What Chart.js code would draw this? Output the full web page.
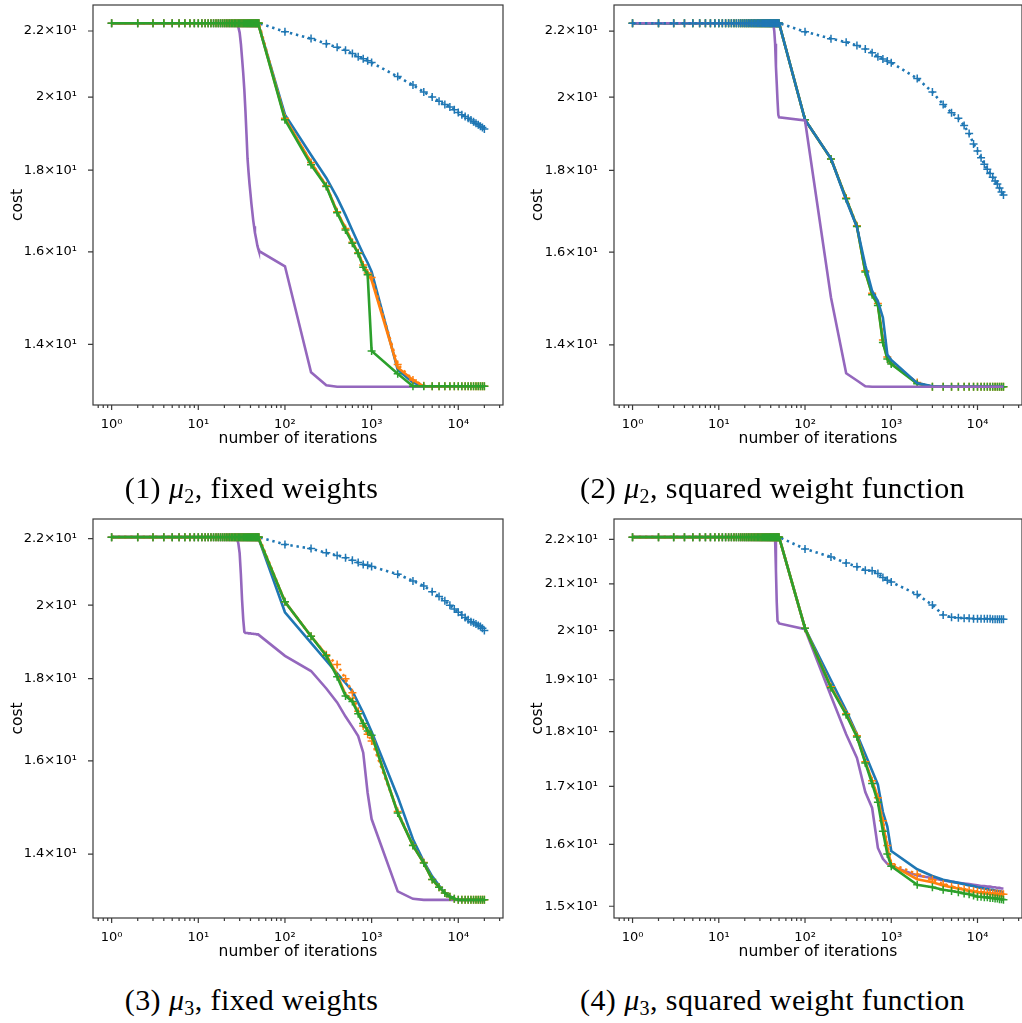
<!DOCTYPE html>
<html>
<head>
<meta charset="utf-8">
<script src="https://cdn.jsdelivr.net/npm/chart.js@4.4.0/dist/chart.umd.min.js"></script>
<style>
  body { margin: 0; background: #fff; width: 1022px; height: 1023px; position: relative; overflow: hidden; }
  .panel { position: absolute; }
  .cap { position: absolute; text-align: center; font-family: "Liberation Serif", serif; font-size: 30px; line-height: 32px; color: #000; letter-spacing: 0.4px; white-space: nowrap; }
  .cap sub { font-size: 20px; vertical-align: -5px; line-height: 0; }
</style>
</head>
<body>
<div class="panel" style="left:0;top:0;width:510px;height:460px"><canvas id="c1"></canvas></div>
<div class="panel" style="left:510px;top:0;width:512px;height:460px"><canvas id="c2"></canvas></div>
<div class="panel" style="left:0;top:500px;width:510px;height:473px"><canvas id="c3"></canvas></div>
<div class="panel" style="left:510px;top:500px;width:512px;height:473px"><canvas id="c4"></canvas></div>
<div class="cap" style="left:0;top:472px;width:503px">(1) <i>μ</i><sub>2</sub>, fixed weights</div>
<div class="cap" style="left:521px;top:472px;width:503px">(2) <i>μ</i><sub>2</sub>, squared weight function</div>
<div class="cap" style="left:0;top:984px;width:503px">(3) <i>μ</i><sub>3</sub>, fixed weights</div>
<div class="cap" style="left:521px;top:984px;width:503px">(4) <i>μ</i><sub>3</sub>, squared weight function</div>
<script>
// iteration counts where the cost was recorded
const iters = [1, 2, 3, 4, 5, 6, 7, 8, 9, 10, 11, 12, 13, 14, 15, 16, 17, 18, 19, 20,
  21, 22, 23, 24, 25, 26, 27, 28, 29, 30, 31, 32, 33, 34, 35, 36, 37, 38, 39, 40,
  41, 42, 43, 44, 45, 46, 47, 48, 49, 50,
  100, 200, 300, 400, 500, 600, 700, 800, 900, 1000,
  2000, 3000, 4000, 5000, 6000, 7000, 8000, 9000, 10000, 11000,
  12000, 13000, 14000, 15000, 16000, 17000, 18000, 19000, 20000];

// starting plateau (first 50 iterations)
const top12 = [22.25, 22.25, 22.25, 22.25, 22.25, 22.25, 22.25, 22.25, 22.25, 22.25,
  22.25, 22.25, 22.25, 22.25, 22.25, 22.25, 22.25, 22.25, 22.25, 22.25,
  22.25, 22.25, 22.25, 22.25, 22.25, 22.25, 22.25, 22.25, 22.25, 22.25,
  22.25, 22.25, 22.25, 22.25, 22.25, 22.25, 22.25, 22.25, 22.25, 22.25,
  22.25, 22.25, 22.25, 22.25, 22.25, 22.25, 22.25, 22.25, 22.25, 22.25];
const top34 = [22.05, 22.05, 22.05, 22.05, 22.05, 22.05, 22.05, 22.05, 22.05, 22.05,
  22.05, 22.05, 22.05, 22.05, 22.05, 22.05, 22.05, 22.05, 22.05, 22.05,
  22.05, 22.05, 22.05, 22.05, 22.05, 22.05, 22.05, 22.05, 22.05, 22.05,
  22.05, 22.05, 22.05, 22.05, 22.05, 22.05, 22.05, 22.05, 22.05, 22.05,
  22.05, 22.05, 22.05, 22.05, 22.05, 22.05, 22.05, 22.05, 22.05, 22.05];

// (1) mu2, fixed weights -- values from 100 iterations on
const blueDot1 = [21.98, 21.76, 21.6, 21.49, 21.4, 21.3, 21.2, 21.14, 21.08, 21.02,
  20.6, 20.35, 20.15, 20.0, 19.88, 19.79, 19.72, 19.64, 19.56, 19.5,
  19.45, 19.4, 19.35, 19.3, 19.26, 19.22, 19.18, 19.14, 19.1];
const blueLine1 = [19.5, 18.4, 17.8, 17.3, 16.87, 16.5, 16.2, 15.95, 15.75, 15.55,
  13.5, 13.25, 13.18, 13.18, 13.18, 13.18, 13.18, 13.18, 13.18, 13.18,
  13.18, 13.18, 13.18, 13.18, 13.18, 13.18, 13.18, 13.18, 13.18];
const orangeLine1 = [19.4, 18.2, 17.6, 16.95, 16.55, 16.22, 15.98, 15.7, 15.52, 15.36,
  13.54, 13.3, 13.18, 13.18, 13.18, 13.18, 13.18, 13.18, 13.18, 13.18,
  13.18, 13.18, 13.18, 13.18, 13.18, 13.18, 13.18, 13.18, 13.18];
const orangeDot1 = [19.4, 18.2, 17.6, 16.95, 16.55, 16.22, 15.98, 15.7, 15.52, 15.42,
  13.6, 13.3, 13.19, 13.18, 13.18, 13.18, 13.18, 13.18, 13.18, 13.18,
  13.18, 13.18, 13.18, 13.18, 13.18, 13.18, 13.18, 13.18, 13.18];
const green1 = [19.36, 18.14, 17.58, 16.93, 16.51, 16.2, 15.96, 15.65, 15.48, 13.87,
  13.42, 13.18, 13.18, 13.18, 13.18, 13.18, 13.18, 13.18, 13.18, 13.18,
  13.18, 13.18, 13.18, 13.18, 13.18, 13.18, 13.18, 13.18, 13.18];
const purpleDrop1 = [22.22, 22.12, 21.95, 21.6, 21.15, 20.7, 20.2, 19.6, 18.95, 18.3,
  17.95, 17.65, 17.4, 17.15, 16.95, 16.75, 16.6, 16.45, 16.35, 16.25, 16.15, 16.08, 16.02];
const purple1 = [15.67, 13.45, 13.2, 13.17, 13.17, 13.17, 13.17, 13.17, 13.17, 13.17,
  13.17, 13.17, 13.17, 13.17, 13.17, 13.17, 13.17, 13.17, 13.17, 13.17,
  13.17, 13.17, 13.17, 13.17, 13.17, 13.17, 13.17, 13.17, 13.17];

// (2) mu2, squared weight function
const blueDot2 = [21.98, 21.76, 21.65, 21.55, 21.44, 21.32, 21.2, 21.13, 21.07, 21.02,
  20.55, 20.15, 19.79, 19.56, 19.4, 19.2, 18.98, 18.7, 18.51, 18.33,
  18.16, 18.03, 17.92, 17.82, 17.73, 17.65, 17.55, 17.45, 17.37];
const blueLine2 = [19.36, 18.31, 17.25, 16.59, 15.7, 15.13, 14.91, 14.56, 13.81, 13.7,
  13.25, 13.19, 13.18, 13.18, 13.18, 13.18, 13.18, 13.18, 13.18, 13.18,
  13.18, 13.18, 13.18, 13.18, 13.18, 13.18, 13.18, 13.18, 13.18];
const orangeLine2 = [19.36, 18.31, 17.28, 16.6, 15.55, 15.06, 14.85, 14.07, 13.74, 13.63,
  13.25, 13.18, 13.18, 13.18, 13.18, 13.18, 13.18, 13.18, 13.18, 13.18,
  13.18, 13.18, 13.18, 13.18, 13.18, 13.18, 13.18, 13.18, 13.18];
const orangeDot2 = [19.36, 18.3, 17.3, 16.62, 15.58, 15.08, 14.86, 14.1, 13.76, 13.64,
  13.26, 13.18, 13.18, 13.18, 13.18, 13.18, 13.18, 13.18, 13.18, 13.18,
  13.18, 13.18, 13.18, 13.18, 13.18, 13.18, 13.18, 13.18, 13.18];
const green2 = [19.36, 18.3, 17.28, 16.6, 15.55, 15.05, 14.82, 14.05, 13.72, 13.62,
  13.24, 13.18, 13.18, 13.18, 13.18, 13.18, 13.18, 13.18, 13.18, 13.18,
  13.18, 13.18, 13.18, 13.18, 13.18, 13.18, 13.18, 13.18, 13.18];
const purpleDrop2 = [22.2, 22.0, 21.6, 20.9, 20.4, 19.9, 19.5, 19.43];
const purple2 = [19.34, 14.99, 13.44, 13.3, 13.19, 13.18, 13.18, 13.18, 13.18, 13.18,
  13.18, 13.18, 13.18, 13.18, 13.18, 13.18, 13.18, 13.18, 13.18, 13.18,
  13.18, 13.18, 13.18, 13.18, 13.18, 13.18, 13.18, 13.18, 13.18];

// (3) mu3, fixed weights
const blueDot3 = [21.82, 21.69, 21.56, 21.48, 21.41, 21.33, 21.26, 21.2, 21.18, 21.14,
  20.91, 20.71, 20.56, 20.39, 20.25, 20.13, 20.0, 19.89, 19.8, 19.72,
  19.65, 19.59, 19.53, 19.5, 19.47, 19.43, 19.4, 19.35, 19.29];
const blueLine3 = [19.8, 18.95, 18.47, 18.14, 17.89, 17.68, 17.39, 17.14, 16.9, 16.68,
  15.2, 14.3, 13.85, 13.56, 13.38, 13.24, 13.18, 13.13, 13.11, 13.11,
  13.11, 13.11, 13.11, 13.11, 13.11, 13.11, 13.11, 13.11, 13.11];
const green3 = [20.1, 19.13, 18.6, 18.05, 17.56, 17.42, 17.12, 16.88, 16.7, 16.6,
  14.85, 14.17, 13.82, 13.5, 13.35, 13.24, 13.17, 13.13, 13.11, 13.11,
  13.11, 13.11, 13.11, 13.11, 13.11, 13.11, 13.11, 13.11, 13.11];
const orangeDot3 = [20.1, 19.13, 18.63, 18.37, 18.0, 17.64, 17.18, 16.82, 16.62, 16.46,
  14.88, 14.18, 13.83, 13.5, 13.35, 13.24, 13.17, 13.13, 13.11, 13.11,
  13.11, 13.11, 13.11, 13.11, 13.11, 13.11, 13.11, 13.11, 13.11];
const orangeLine3 = [20.1, 19.13, 18.62, 18.1, 17.6, 17.45, 17.15, 16.9, 16.72, 16.6,
  14.86, 14.17, 13.82, 13.5, 13.35, 13.24, 13.17, 13.13, 13.11, 13.11,
  13.11, 13.11, 13.11, 13.11, 13.11, 13.11, 13.11, 13.11, 13.11];
const purpleDrop3 = [22.0, 21.85, 21.55, 20.9, 20.15, 19.6, 19.25, 19.22, 19.22, 19.22,
  19.21, 19.21, 19.21, 19.2, 19.2, 19.2, 19.19, 19.19, 19.19, 19.18, 19.18, 19.18, 19.18];
const purple3 = [18.6, 18.2, 17.75, 17.4, 17.05, 16.8, 16.58, 16.19, 15.28, 14.72,
  13.27, 13.13, 13.11, 13.11, 13.11, 13.11, 13.11, 13.11, 13.11, 13.11,
  13.11, 13.11, 13.11, 13.11, 13.11, 13.11, 13.11, 13.11, 13.11];

// (4) mu3, squared weight function
const blueDot4 = [21.78, 21.6, 21.46, 21.38, 21.3, 21.29, 21.23, 21.14, 21.08, 21.04,
  20.77, 20.54, 20.33, 20.28, 20.27, 20.26, 20.26, 20.25, 20.25, 20.25,
  20.25, 20.25, 20.25, 20.24, 20.24, 20.24, 20.24, 20.24, 20.24];
const blueLine4 = [20.05, 18.99, 18.4, 17.95, 17.58, 17.28, 17.03, 16.55, 16.3, 15.89,
  15.59, 15.48, 15.42, 15.39, 15.37, 15.35, 15.33, 15.32, 15.3, 15.29,
  15.28, 15.27, 15.26, 15.26, 15.25, 15.24, 15.24, 15.23, 15.22];
const green4 = [20.05, 18.84, 18.32, 17.9, 17.42, 17.05, 16.72, 16.22, 15.84, 15.64,
  15.34, 15.3, 15.26, 15.24, 15.22, 15.2, 15.19, 15.17, 15.15, 15.15,
  15.14, 15.14, 15.13, 15.13, 15.12, 15.12, 15.11, 15.11, 15.1];
const orangeLine4 = [20.05, 18.86, 18.34, 17.92, 17.44, 17.1, 16.8, 16.35, 15.95, 15.66,
  15.43, 15.38, 15.33, 15.3, 15.28, 15.26, 15.24, 15.23, 15.22, 15.21,
  15.2, 15.2, 15.19, 15.19, 15.18, 15.18, 15.17, 15.17, 15.16];
const orangeDot4 = [20.05, 18.86, 18.34, 17.92, 17.44, 17.1, 16.8, 16.4, 15.98, 15.68,
  15.51, 15.42, 15.35, 15.31, 15.29, 15.27, 15.25, 15.24, 15.23, 15.22,
  15.22, 15.21, 15.21, 15.2, 15.2, 15.2, 15.19, 15.19, 15.19];
const purpleDrop4 = [22.0, 21.3, 20.6, 20.2, 20.18, 20.15];
const purple4 = [20.03, 18.68, 17.95, 17.51, 16.9, 16.62, 15.94, 15.76, 15.68, 15.64,
  15.49, 15.45, 15.41, 15.39, 15.37, 15.36, 15.35, 15.34, 15.33, 15.32,
  15.32, 15.31, 15.31, 15.3, 15.3, 15.29, 15.29, 15.28, 15.28];

// tick labels
const xMajor = [1, 10, 100, 1000, 10000];
const xLabels = ['10⁰', '10¹', '10²', '10³', '10⁴'];
const yTicksA = [14, 16, 18, 20, 22];
const yLabelsA = ['1.4×10¹', '1.6×10¹', '1.8×10¹', '2×10¹', '2.2×10¹'];
const yTicksB = [15, 16, 17, 18, 19, 20, 21, 22];
const yLabelsB = ['1.5×10¹', '1.6×10¹', '1.7×10¹', '1.8×10¹', '1.9×10¹', '2×10¹', '2.1×10¹', '2.2×10¹'];

const BLUE = '#1f77b4', ORANGE = '#ff7f0e', GREEN = '#2ca02c', PURPLE = '#9467bd';

// matplotlib-like autoscale: 5% margin in log space
function logRange(vals) {
    const lo = Math.log10(Math.min(...vals));
    const hi = Math.log10(Math.max(...vals));
    const m = (hi - lo) * 0.05;
    return [Math.pow(10, lo - m), Math.pow(10, hi + m)];
}

// spines + tick marks like matplotlib
const framePlugin = {
    id: 'frame',
    afterDraw(chart) {
        const ctx = chart.ctx, a = chart.chartArea;
        const xs = chart.scales.x, ys = chart.scales.y;
        ctx.save();
        ctx.strokeStyle = '#3a3a3a';
        ctx.lineWidth = 1.2;
        ctx.strokeRect(a.left, a.top, a.right - a.left, a.bottom - a.top);
        ctx.beginPath();
        xs.ticks.forEach(function (t) {
            const p = xs.getPixelForValue(t.value);
            ctx.moveTo(p, a.bottom);
            ctx.lineTo(p, a.bottom + (t.major ? 5 : 3));
        });
        ys.ticks.forEach(function (t) {
            const p = ys.getPixelForValue(t.value);
            ctx.moveTo(a.left, p);
            ctx.lineTo(a.left - 5, p);
        });
        ctx.stroke();
        ctx.restore();
    }
};

function series(vals, color, dotted, marks) {
    return {
        data: iters.map(function (x, i) { return { x: x, y: vals[i] }; }),
        borderColor: color,
        backgroundColor: color,
        borderWidth: 2.6,
        borderDash: dotted ? [2.4, 3.8] : [],
        pointStyle: 'cross',
        pointRadius: marks ? 4 : 0,
        pointBorderWidth: 1.5,
        pointBorderColor: color,
        tension: 0,
        fill: false
    };
}

function noPad(scale) {
    scale.paddingLeft = 0;
    scale.paddingRight = 0;
    scale.paddingTop = 0;
    scale.paddingBottom = 0;
}

function makeChart(id, sets, yTicks, yLabels, yWidth, padTop, yTitlePad) {
    let all = [];
    sets.forEach(function (s) { all = all.concat(s.data.map(function (p) { return p.y; })); });
    const yr = logRange(all);
    const xr = logRange(iters);
    const xMinor = [];
    [0.1, 1, 10, 100, 1000, 10000].forEach(function (d) {
        for (let k = 2; k <= 9; k++) {
            if (k * d >= xr[0] && k * d <= xr[1]) xMinor.push(k * d);
        }
    });

    return new Chart(document.getElementById(id), {
        type: 'line',
        data: { datasets: sets },
        options: {
            responsive: true,
            maintainAspectRatio: false,
            animation: false,
            events: [],
            layout: { padding: { top: padTop, right: id === 'c1' || id === 'c3' ? 7 : 0, left: 0, bottom: 0 }, autoPadding: false },
            plugins: { legend: { display: false }, tooltip: { enabled: false } },
            scales: {
                x: {
                    type: 'logarithmic',
                    min: xr[0], max: xr[1], bounds: 'data',
                    grid: { display: false },
                    border: { display: false },
                    ticks: {
                        autoSkip: false, maxRotation: 0, padding: 4, color: '#000',
                        font: { family: 'DejaVu Sans', size: 13 },
                        callback: function (v) {
                            const i = xMajor.indexOf(v);
                            return i >= 0 ? xLabels[i] : '';
                        }
                    },
                    afterBuildTicks: function (scale) {
                        const t = xMajor.map(function (v) { return { value: v, major: true }; })
                            .concat(xMinor.map(function (v) { return { value: v, major: false }; }));
                        t.sort(function (a, b) { return a.value - b.value; });
                        scale.ticks = t;
                    },
                    afterFit: function (scale) { scale.height = 55; noPad(scale); },
                    title: {
                        display: true, text: 'number of iterations', color: '#000',
                        font: { family: 'DejaVu Sans', size: 15.5 },
                        padding: { top: 0, bottom: 12 }
                    }
                },
                y: {
                    type: 'logarithmic',
                    min: yr[0], max: yr[1], bounds: 'data',
                    grid: { display: false },
                    border: { display: false },
                    ticks: {
                        autoSkip: false, padding: 8, color: '#000',
                        font: { family: 'DejaVu Sans', size: 13 },
                        callback: function (v) {
                            const i = yTicks.indexOf(v);
                            return i >= 0 ? yLabels[i] : '';
                        }
                    },
                    afterBuildTicks: function (scale) {
                        scale.ticks = yTicks.map(function (v) { return { value: v, major: true }; });
                    },
                    afterFit: function (scale) { scale.width = yWidth; noPad(scale); },
                    title: {
                        display: true, text: 'cost', color: '#000',
                        font: { family: 'DejaVu Sans', size: 15.5 },
                        padding: { top: yTitlePad, bottom: 0 }
                    }
                }
            }
        },
        plugins: [framePlugin]
    });
}

// first dataset is drawn on top
makeChart('c1', [
    series(top12.concat(green1), GREEN, false, true),
    series(top12.concat(orangeDot1), ORANGE, true, true),
    series(top12.concat(orangeLine1), ORANGE, false, false),
    series(top12.concat(blueDot1), BLUE, true, true),
    series(top12.concat(blueLine1), BLUE, false, false),
    series(top12.slice(0, 27).concat(purpleDrop1, purple1), PURPLE, false, false)
], yTicksA, yLabelsA, 93, 5, 9);

makeChart('c2', [
    series(top12.concat(blueDot2), BLUE, true, true),
    series(top12.slice(0, 42).concat(purpleDrop2, purple2), PURPLE, false, false),
    series(top12.concat(blueLine2), BLUE, false, false),
    series(top12.concat(green2), GREEN, false, true),
    series(top12.concat(orangeDot2), ORANGE, true, true),
    series(top12.concat(orangeLine2), ORANGE, false, false)
], yTicksA, yLabelsA, 104, 5, 19);

makeChart('c3', [
    series(top34.concat(green3), GREEN, false, true),
    series(top34.concat(orangeDot3), ORANGE, true, true),
    series(top34.concat(orangeLine3), ORANGE, false, false),
    series(top34.concat(blueLine3), BLUE, false, false),
    series(top34.concat(blueDot3), BLUE, true, true),
    series(top34.slice(0, 27).concat(purpleDrop3, purple3), PURPLE, false, false)
], yTicksA, yLabelsA, 93, 19, 9);

makeChart('c4', [
    series(top34.concat(green4), GREEN, false, true),
    series(top34.concat(orangeDot4), ORANGE, true, true),
    series(top34.concat(orangeLine4), ORANGE, false, false),
    series(top34.concat(blueLine4), BLUE, false, false),
    series(top34.concat(blueDot4), BLUE, true, true),
    series(top34.slice(0, 44).concat(purpleDrop4, purple4), PURPLE, false, false)
], yTicksB, yLabelsB, 104, 19, 19);
</script>
</body>
</html>
